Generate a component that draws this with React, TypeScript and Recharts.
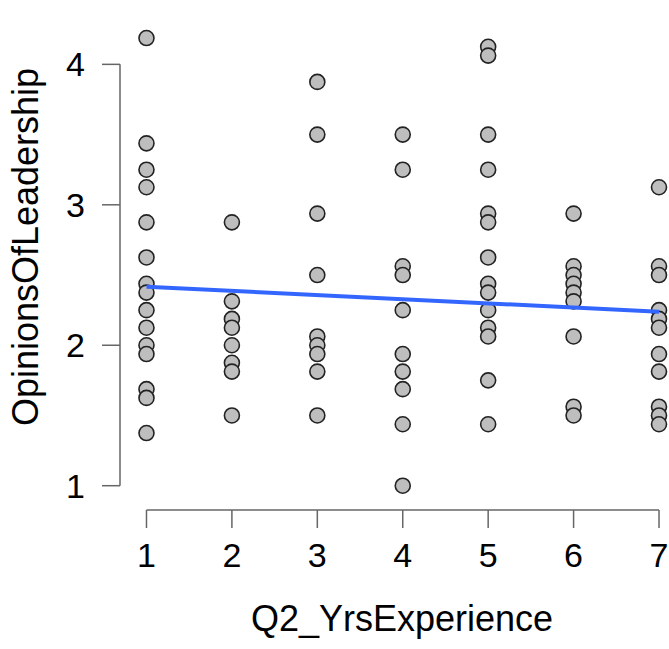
import { ScatterChart, Scatter, XAxis, YAxis, ReferenceLine } from 'recharts';

// opinion scores, one array per years-of-experience group
const yrs1 = [4.1875, 3.4375, 3.25, 3.125, 2.875, 2.625, 2.4375, 2.375, 2.25, 2.125, 2.0, 1.9375, 1.6875, 1.625, 1.375];
const yrs2 = [2.875, 2.3125, 2.1875, 2.125, 2.0, 1.875, 1.8125, 1.5];
const yrs3 = [3.875, 3.5, 2.9375, 2.5, 2.0625, 2.0, 1.9375, 1.8125, 1.5];
const yrs4 = [3.5, 3.25, 2.5625, 2.5, 2.25, 1.9375, 1.8125, 1.6875, 1.4375, 1.0];
const yrs5 = [4.125, 4.0625, 3.5, 3.25, 2.9375, 2.875, 2.625, 2.4375, 2.375, 2.25, 2.125, 2.0625, 1.75, 1.4375];
const yrs6 = [2.9375, 2.5625, 2.5, 2.4375, 2.375, 2.3125, 2.0625, 1.5625, 1.5];
const yrs7 = [3.125, 2.5625, 2.5, 2.25, 2.1875, 2.125, 1.9375, 1.8125, 1.5625, 1.5, 1.4375];

const groups = [yrs1, yrs2, yrs3, yrs4, yrs5, yrs6, yrs7];
const xTicks = [1, 2, 3, 4, 5, 6, 7];
const yTicks = [1, 2, 3, 4];

// linear fit end points
const fitX = [1, 7];
const fitY = [2.417, 2.239];

const points = groups.flatMap((ys, i) => ys.map((y) => ({ x: xTicks[i], y })));
const fit = fitX.map((x, i) => ({ x, y: fitY[i] }));

const X_DOMAIN: [number, number] = [0.69, 7.117];
const Y_DOMAIN: [number, number] = [0.827, 4.387];

const font = '"Liberation Sans", Arial, sans-serif';
const axisColor = '#666';

const Dot = (props: any) => {
  const { cx, cy } = props;
  return <circle cx={cx} cy={cy} r={7.5} fill="#bebebe" stroke="#222" strokeWidth={1.6} />;
};

// titles placed like R's mtext, centred on the axis lines rather than the plot box
const YTitle = () => (
  <text
    x={38}
    y={247}
    transform="rotate(-90, 38, 247)"
    textAnchor="middle"
    fill="#000"
    fontSize={36}
    fontFamily={font}
  >
    OpinionsOfLeadership
  </text>
);

const XTitle = () => (
  <text x={402} y={631} textAnchor="middle" fill="#000" fontSize={36} fontFamily={font}>
    Q2_YrsExperience
  </text>
);

export default function App() {
  return (
    <div style={{ position: 'absolute', left: 0, top: 0, background: '#fff' }}>
      <ScatterChart width={669} height={649} margin={{ top: 10, right: 0, bottom: 0, left: 0 }}>
        <XAxis
          type="number"
          dataKey="x"
          domain={X_DOMAIN}
          ticks={xTicks}
          allowDataOverflow
          axisLine={false}
          tickLine={{ stroke: axisColor, strokeWidth: 1.5 }}
          tickSize={18}
          tickMargin={15}
          height={139}
          tick={{ fill: '#000', fontSize: 34, fontFamily: font }}
          label={{ content: () => <XTitle /> }}
        />
        <YAxis
          type="number"
          dataKey="y"
          domain={Y_DOMAIN}
          ticks={yTicks}
          allowDataOverflow
          axisLine={false}
          tickLine={{ stroke: axisColor, strokeWidth: 1.5 }}
          tickSize={18}
          tickMargin={17}
          width={120}
          tick={{ fill: '#000', fontSize: 34, fontFamily: font }}
          label={{ content: () => <YTitle /> }}
        />
        <ReferenceLine
          segment={[{ x: xTicks[0], y: Y_DOMAIN[0] }, { x: xTicks[xTicks.length - 1], y: Y_DOMAIN[0] }]}
          stroke={axisColor}
          strokeWidth={1.5}
          ifOverflow="visible"
        />
        <ReferenceLine
          segment={[{ x: X_DOMAIN[0], y: yTicks[0] }, { x: X_DOMAIN[0], y: yTicks[yTicks.length - 1] }]}
          stroke={axisColor}
          strokeWidth={1.5}
          ifOverflow="visible"
        />
        <Scatter data={points} shape={<Dot />} isAnimationActive={false} />
        <Scatter
          data={fit}
          line={{ stroke: '#3366ff', strokeWidth: 4 }}
          shape={() => <g />}
          isAnimationActive={false}
        />
      </ScatterChart>
    </div>
  );
}
